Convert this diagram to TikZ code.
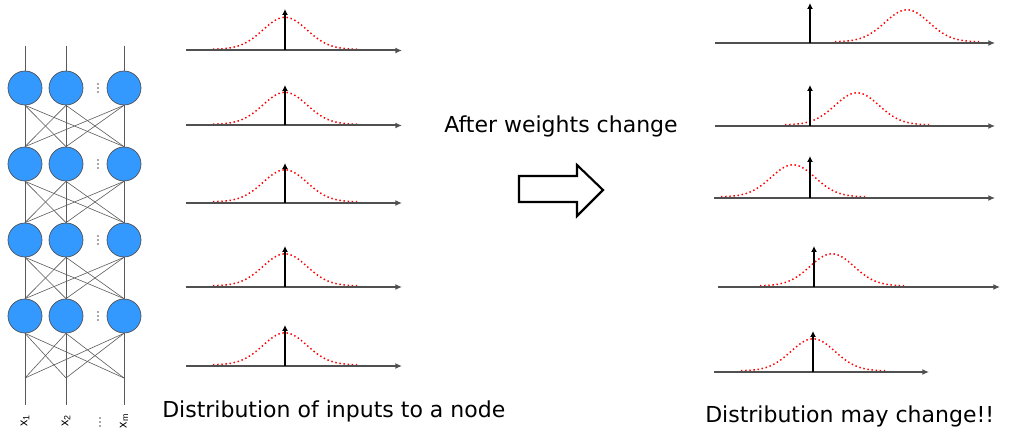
\documentclass[tikz,border=0pt]{standalone}
\usepackage{fontspec}
\setmainfont{DejaVu Sans}
\newfontfamily\labelfont{Liberation Sans}
\usetikzlibrary{arrows.meta}
\definecolor{nodeblue}{RGB}{51,153,255}
\definecolor{axisgray}{RGB}{80,80,80}
\definecolor{wiregray}{RGB}{90,90,90}
\tikzset{
  neuron/.style={circle, fill=nodeblue, draw=black!70, line width=0.5pt, minimum size=25.5pt, inner sep=0pt},
  wire/.style={draw=wiregray, line width=0.45pt},
  axisline/.style={draw=axisgray, line width=1.5pt, -{Latex[length=5pt,width=4.5pt]}},
  meanarrow/.style={draw=black, line width=1.8pt, -{Latex[length=4.5pt,width=4.5pt]}},
  gauss/.style={draw=red, line width=1.1pt, dotted},
  caption/.style={font=\fontsize{16.5}{20}\selectfont, inner sep=0pt},
  inlabel/.style={rotate=90, font=\labelfont\fontsize{9.5}{10}\selectfont, inner sep=0pt},
  dotmark/.style={fill=black!70, radius=0.9},
}
\begin{document}
\begin{tikzpicture}[x=0.75pt, y=-0.75pt]
\useasboundingbox (0,0) rectangle (1029,434);
% ---------- network ----------
\def\colx{{25,66,124}}
\def\rowy{{88,164,240,316}}
\foreach \r in {1,...,4}{
  \foreach \c in {1,2,3}{
    \pgfmathsetmacro{\xx}{\colx[\c-1]}
    \pgfmathsetmacro{\yy}{\rowy[\r-1]}
    \node[neuron] (n\r\c) at (\xx,\yy) {};
  }
  \pgfmathsetmacro{\yy}{\rowy[\r-1]}
  \foreach \d in {-4,0,4}{\fill[dotmark] (98,\yy+\d) circle;}
}
\foreach \c in {1,2,3}{
  \pgfmathsetmacro{\xx}{\colx[\c-1]}
  \coordinate (t\c) at (\xx,46);
  \coordinate (b\c) at (\xx,378);
  \coordinate (e\c) at (\xx,405);
  \draw[wire] (t\c) -- (n1\c.north);
  \draw[wire] (b\c) -- (e\c);
}
\foreach \r/\s in {1/2,2/3,3/4}{
  \foreach \c in {1,2,3}{
    \foreach \d in {1,2,3}{
      \draw[wire] (n\r\c.south) -- (n\s\d.north);
    }
  }
}
\foreach \c in {1,2,3}{
  \foreach \d in {1,2,3}{
    \draw[wire] (n4\c.south) -- (b\d);
  }
}
\node[inlabel] (l1) at (25,421) {x\textsubscript{1}};
\node[inlabel] (l2) at (66,421) {x\textsubscript{2}};
\node[inlabel] (l3) at (124,421) {x\textsubscript{m}};
\foreach \d in {-4,0,4}{\fill[dotmark] (100,422+\d) circle;}
% ---------- left distributions ----------
\foreach \i/\ay/\top in {1/50.5/9, 2/125.5/85, 3/203/163, 4/287/246, 5/366/325}{
  \coordinate (La\i) at (186,\ay);
  \coordinate (Lb\i) at (402,\ay);
  \coordinate (Lm\i) at (285,\ay);
  \coordinate (Lt\i) at (285,\top);
  \draw[gauss] plot[domain=-72:72, samples=72] ({285+\x},{\ay-1.2-32*exp(-((\x/22)^2)/2)});
  \draw[axisline] (La\i) -- (Lb\i);
  \draw[meanarrow] (Lm\i) -- (Lt\i);
}
% ---------- right distributions ----------
\foreach \i/\ay/\xs/\xe/\mx/\top/\gc in {1/43/715/995/810/3/907, 2/126/715/995/810/85/857, 3/198/714/995/810/156/793, 4/287/718/1000/814/246/832, 5/372/714/929/813/331/813}{
  \coordinate (Ra\i) at (\xs,\ay);
  \coordinate (Rb\i) at (\xe,\ay);
  \coordinate (Rm\i) at (\mx,\ay);
  \coordinate (Rt\i) at (\mx,\top);
  \draw[gauss] plot[domain=-72:72, samples=72] ({\gc+\x},{\ay-1.2-32*exp(-((\x/22)^2)/2)});
  \draw[axisline] (Ra\i) -- (Rb\i);
  \draw[meanarrow] (Rm\i) -- (Rt\i);
}
% ---------- big arrow ----------
\draw[line width=1.6pt, fill=white, line join=miter]
  (519,176) -- (577,176) -- (577,165) -- (603,190) -- (577,216) -- (577,202) -- (519,202) -- cycle;
% ---------- captions ----------
\node[caption, anchor=base] (after) at (561,133) {After weights change};
\node[caption, anchor=base west] (capL) at (162,418) {Distribution of inputs to a node};
\node[caption, anchor=base west] (capR) at (705,423) {Distribution may change!!};
\end{tikzpicture}
\end{document}
